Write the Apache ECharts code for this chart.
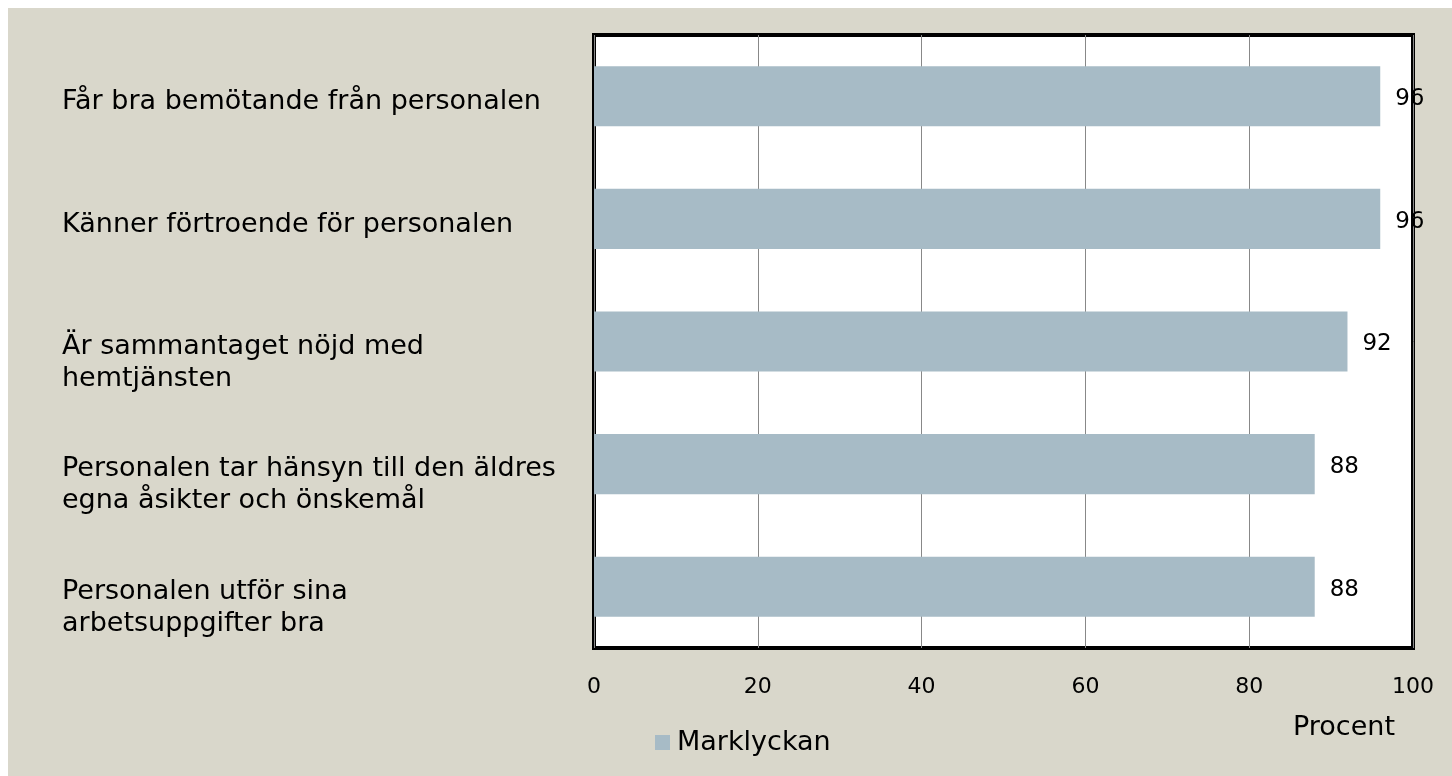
<!DOCTYPE html>
<html>
<head>
<meta charset="utf-8">
<script src="https://cdn.jsdelivr.net/npm/echarts@6/dist/echarts.min.js"></script>
<style>
  html, body { margin: 0; padding: 0; background: #ffffff; }
  #chart { position: absolute; left: 8px; top: 8px; width: 1444px; height: 768px; background: #d9d7cb; }
</style>
</head>
<body>
<div id="chart"></div>
<script>
// data
const kategorier = [
    'Får bra bemötande från personalen',
    'Känner förtroende för personalen',
    'Är sammantaget nöjd med\nhemtjänsten',
    'Personalen tar hänsyn till den äldres\negna åsikter och önskemål',
    'Personalen utför sina\narbetsuppgifter bra'
];
const andel_marklyckan = [96, 96, 92, 88, 88];
const serie_namn = 'Marklyckan';
const axel_namn = 'Procent';

const FONT = '"DejaVu Sans", sans-serif';

var myChart = echarts.init(document.getElementById('chart'));

// labels sit a bit lower than the bar centres in the original,
// so an empty spacer line is put on top of each one
function kategoriEtikett(v) {
    var rader = v.split('\n');
    var gap = rader.length > 1 ? '{g2| }' : '{g1| }';
    return gap + '\n' + rader.map(function (r) { return '{t|' + r + '}'; }).join('\n');
}

var option = {
    animation: false,
    textStyle: { fontFamily: FONT },
    grid: {
        left: 586,
        top: 27,
        right: 39,
        bottom: 128,
        outerBoundsMode: 'none',
        containLabel: false,
        show: true,
        backgroundColor: '#ffffff',
        borderColor: '#000000',
        borderWidth: 4
    },
    legend: {
        left: 642,
        top: 716,
        itemWidth: 15,
        itemHeight: 15,
        itemGap: 4,
        icon: 'rect',
        textStyle: { fontFamily: FONT, fontSize: 27, color: '#000', padding: [0, 0, 0, 2] },
        data: [serie_namn]
    },
    xAxis: {
        type: 'value',
        min: 0,
        max: 100,
        interval: 20,
        axisLine: { show: false },
        axisTick: { show: false },
        splitLine: { show: true, lineStyle: { color: '#888888', width: 1 } },
        axisLabel: { fontFamily: FONT, fontSize: 22, color: '#000', margin: 28 }
    },
    yAxis: {
        type: 'category',
        inverse: true,
        data: kategorier,
        axisLine: { show: false },
        axisTick: { show: false },
        splitLine: { show: false },
        axisLabel: {
            fontFamily: FONT,
            fontSize: 27,
            color: '#000',
            align: 'left',
            margin: 532,
            formatter: kategoriEtikett,
            rich: {
                g1: { fontSize: 2, lineHeight: 12 },
                g2: { fontSize: 2, lineHeight: 42 },
                t: { fontFamily: FONT, fontSize: 27, lineHeight: 32, color: '#000', align: 'left' }
            }
        }
    },
    graphic: [{
        type: 'text',
        left: 1285,
        top: 706,
        style: { text: axel_namn, font: '27px ' + FONT, fill: '#000' }
    }],
    series: [{
        name: serie_namn,
        type: 'bar',
        data: andel_marklyckan,
        barCategoryGap: '51%',
        itemStyle: { color: '#a7bbc6' },
        label: {
            show: true,
            position: 'right',
            distance: 15,
            offset: [0, 3],
            fontFamily: FONT,
            fontSize: 23,
            color: '#000'
        }
    }]
};

myChart.setOption(option);
</script>
</body>
</html>
